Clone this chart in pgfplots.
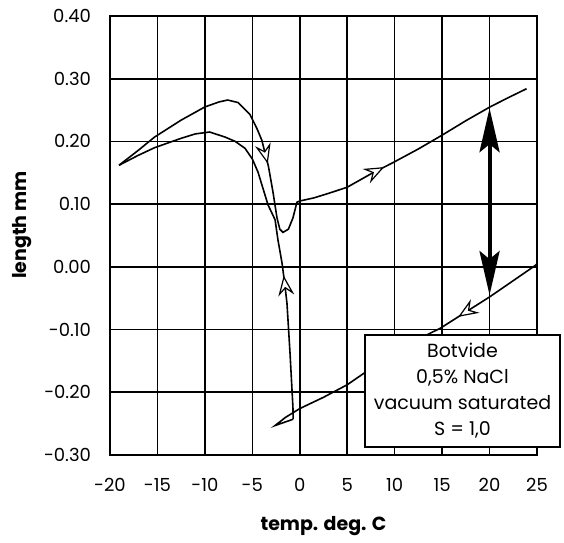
\documentclass[border=0pt]{standalone}
\usepackage{fontspec}
\setmainfont{Poppins}
\usepackage{pgfplots}
\pgfplotsset{compat=1.18}
\usetikzlibrary{arrows.meta,decorations.markings}

\tikzset{
  openarr/.style={postaction={decorate},
    decoration={markings,mark=at position #1 with
      {\arrow{Stealth[fill=white,length=10pt,width=8pt,inset=3.5pt,line width=0.6pt]}}}},
}

\begin{document}
\begin{tikzpicture}
\begin{axis}[
    width=213.5pt, height=219.5pt, scale only axis,
    xmin=-20, xmax=25, ymin=-0.3, ymax=0.4,
    xtick={-20,-15,-10,-5,0,5,10,15,20,25},
    xticklabels={-20,-15,-10,-5,0,5,10,15,20,25},
    ytick={-0.3,-0.2,-0.1,0,0.1,0.2,0.3,0.4},
    yticklabels={-0.30,-0.20,-0.10,0.00,0.10,0.20,0.30,0.40},
    grid=major,
    major grid style={black, line width=0.8pt},
    axis line style={line width=0.8pt},
    major tick length=0pt,
    tick label style={font=\fontsize{9}{10}\selectfont},
    xticklabel style={yshift=-8pt},
    yticklabel style={xshift=-6pt},
    xlabel={\bfseries temp. deg. C},
    ylabel={\bfseries length mm},
    label style={font=\fontsize{9.5}{11}\selectfont},
    xlabel style={at={(axis description cs:0.5,0)}, anchor=center, yshift=-35.5pt},
    ylabel style={at={(axis description cs:0,0.524)}, anchor=center, yshift=44pt},
    clip=false,
]
% cooling from 25 C
\addplot[black, line width=0.8pt, openarr=0.29] coordinates {
  (25,0.005) (24.8,0.002) (22.5,-0.022) (20,-0.048) (17.5,-0.072) (14.8,-0.098)
  (12.5,-0.115) (9.8,-0.137) (7.5,-0.162) (5,-0.188) (2.5,-0.208) (0,-0.226)
  (-1.5,-0.240) (-2.6,-0.253) (-0.7,-0.243)};
% freezing jump and further cooling
\addplot[black, line width=0.8pt, openarr=72pt] coordinates {
  (-0.7,-0.243) (-0.72,-0.224) (-0.93,-0.165) (-1.03,-0.137) (-1.24,-0.085)
  (-1.35,-0.058) (-1.6,-0.025) (-1.87,0.006) (-2.3,0.043) (-2.6,0.075)
  (-3.35,0.099) (-4.4,0.151) (-5.0,0.172) (-5.77,0.189) (-6.8,0.200) (-7.88,0.207)
  (-9.5,0.215) (-11,0.212) (-12.5,0.205) (-14,0.197) (-15.3,0.190) (-17,0.178)
  (-19.05,0.162)};
% warming
\addplot[black, line width=0.8pt, openarr=104pt] coordinates {
  (-19.05,0.162) (-17,0.186) (-15.3,0.207) (-12.5,0.234) (-10,0.255) (-8.5,0.263)
  (-7.6,0.266) (-6.5,0.262) (-5.25,0.243) (-4.5,0.220) (-4.0,0.202) (-3.3,0.160)
  (-2.82,0.119) (-2.4,0.078) (-2.1,0.060) (-1.77,0.055) (-1.2,0.060) (-0.72,0.078)
  (-0.3,0.103) (0,0.105)};
\addplot[black, line width=0.8pt, openarr=0.36] coordinates {
  (0,0.105) (1.5,0.110) (3.2,0.118) (5,0.127) (7.7,0.150) (9.8,0.166) (12.5,0.188)
  (15,0.210) (17.5,0.233) (20.05,0.255) (22,0.270) (23.9,0.284)};
% thick double arrow
\addplot[black, line width=2pt,
  {Stealth[length=22pt,width=10pt,inset=4pt]}-{Stealth[length=22pt,width=10pt,inset=4pt]}]
  coordinates {(20,0.253) (20,-0.045)};
\node[draw, line width=0.6pt, fill=white, align=center, inner sep=0pt,
  minimum width=97.5pt, minimum height=56pt,
  font=\fontsize{9.5}{13}\selectfont] at (axis cs:17.15,-0.198)
  {Botvide\\0,5\% NaCl\\vacuum saturated\\S = 1,0};
\end{axis}
\path (current axis.south west) ++(-55pt,-42pt);
\path (current axis.north east) ++(13.5pt,8pt);
\end{tikzpicture}
\end{document}
